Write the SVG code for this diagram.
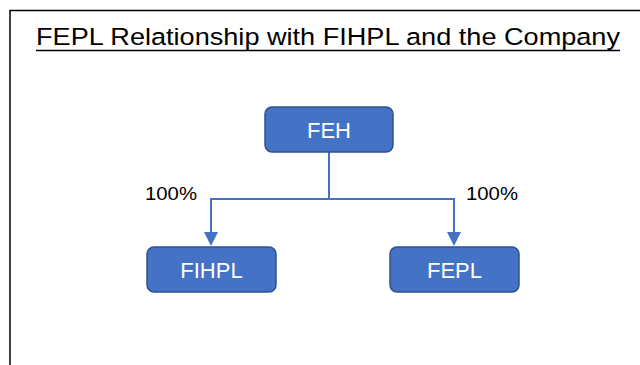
<svg xmlns="http://www.w3.org/2000/svg" width="640" height="365" viewBox="0 0 640 365">
<style>
.node rect{fill:#4472C4;stroke:#2F528F;stroke-width:1.5}
.node text{fill:#fff;font-family:"Liberation Sans",Arial,sans-serif;font-size:22px;text-anchor:middle}
.lbl{fill:#000;font-family:"Liberation Sans",Arial,sans-serif;font-size:18px}
.conn{fill:none;stroke:#4472C4;stroke-width:2}
</style>
<rect x="0" y="0" width="640" height="365" fill="#fff"/>
<path d="M10,365 V10.5 H640" fill="none" stroke="#000" stroke-width="1.5"/>
<text x="36" y="45" font-family="Liberation Sans,Arial,sans-serif" font-size="24.5" textLength="584" lengthAdjust="spacingAndGlyphs" fill="#000">FEPL Relationship with FIHPL and the Company</text>
<line x1="36" y1="50.5" x2="620" y2="50.5" stroke="#000" stroke-width="1.5"/>
<g id="connectors">
<path class="conn" d="M329,152 V199 H211 V232"/>
<path class="conn" d="M329,199 H454 V232"/>
<path d="M204,232 L218,232 L211,246 z" fill="#4472C4"/>
<path d="M447,232 L461,232 L454,246 z" fill="#4472C4"/>
</g>
<g id="lbl-left"><text class="lbl" x="145" y="200" textLength="52" lengthAdjust="spacingAndGlyphs">100%</text></g>
<g id="lbl-right"><text class="lbl" x="466" y="200" textLength="52" lengthAdjust="spacingAndGlyphs">100%</text></g>
<g id="feh" class="node">
<rect x="265" y="107" width="128" height="45" rx="7"/>
<text x="329" y="138">FEH</text>
</g>
<g id="fihpl" class="node">
<rect x="147" y="247" width="129" height="45" rx="7"/>
<text x="211.5" y="278">FIHPL</text>
</g>
<g id="fepl" class="node">
<rect x="390" y="247" width="129" height="45" rx="7"/>
<text x="454.5" y="278">FEPL</text>
</g>
</svg>
